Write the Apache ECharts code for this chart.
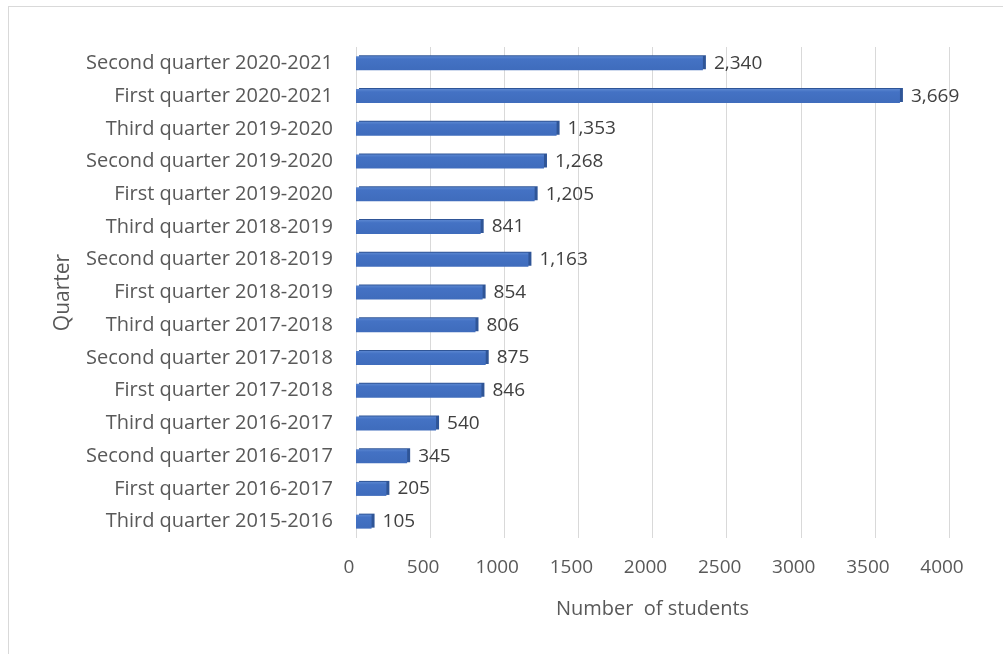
<!DOCTYPE html>
<html>
<head>
<meta charset="utf-8">
<script src="https://cdn.jsdelivr.net/npm/echarts@6/dist/echarts.min.js"></script>
<style>
  html, body { margin: 0; padding: 0; background: #fff; }
  #frame { position: absolute; left: 8px; top: 6px; width: 1100px; height: 700px; border: 1px solid #d9d9d9; }
  #main { position: absolute; left: 0; top: 0; width: 1003px; height: 654px; }
</style>
</head>
<body>
<div id="frame"></div>
<div id="main"></div>
<script>
  // top to bottom, as in the picture
  const quarters = [
    'Second quarter 2020-2021',
    'First quarter 2020-2021',
    'Third quarter 2019-2020',
    'Second quarter 2019-2020',
    'First quarter 2019-2020',
    'Third quarter 2018-2019',
    'Second quarter 2018-2019',
    'First quarter 2018-2019',
    'Third quarter 2017-2018',
    'Second quarter 2017-2018',
    'First quarter 2017-2018',
    'Third quarter 2016-2017',
    'Second quarter 2016-2017',
    'First quarter 2016-2017',
    'Third quarter 2015-2016'
  ];
  const students = [2340, 3669, 1353, 1268, 1205, 841, 1163, 854, 806, 875, 846, 540, 345, 205, 105];

  const font = 'Open Sans';
  let myChart = echarts.init(document.getElementById('main'));
  myChart.setOption({
    animation: false,
    grid: { left: 356, right: 54, top: 47, bottom: 116 },
    xAxis: {
      type: 'value',
      min: 0,
      max: 4000,
      interval: 500,
      name: 'Number  of students',
      nameLocation: 'middle',
      nameGap: 61,
      nameTextStyle: { color: '#595959', fontSize: 20, fontFamily: font },
      axisLine: { show: false },
      axisTick: { show: false },
      axisLabel: {
        color: '#595959', fontSize: 19, fontFamily: font, margin: 20, padding: [0, 14, 0, 0],
        formatter: v => String(v)
      },
      splitLine: { lineStyle: { color: '#d9d9d9', width: 1 } }
    },
    yAxis: {
      type: 'category',
      inverse: true,
      data: quarters,
      name: 'Quarter',
      nameLocation: 'middle',
      nameGap: 282,
      nameTextStyle: { color: '#595959', fontSize: 21, fontFamily: font },
      axisLine: { show: false },
      axisTick: { show: false },
      axisLabel: { color: '#595959', fontSize: 20, fontFamily: font, margin: 23 }
    },
    series: [{
      type: 'bar',
      data: students,
      barWidth: 14,
      itemStyle: {
        color: {
          type: 'linear', x: 0, y: 0, x2: 0, y2: 1,
          colorStops: [
            { offset: 0, color: '#5a86d0' },
            { offset: 0.2, color: '#4472c4' },
            { offset: 1, color: '#3f6cbc' }
          ]
        },
        shadowColor: '#2f5597',
        shadowOffsetX: 3,
        shadowOffsetY: -1,
        shadowBlur: 0
      },
      label: {
        show: true,
        position: 'right',
        distance: 11,
        color: '#404040',
        fontSize: 19,
        fontFamily: font,
        formatter: p => p.value.toLocaleString('en-US')
      }
    }]
  });
</script>
</body>
</html>
